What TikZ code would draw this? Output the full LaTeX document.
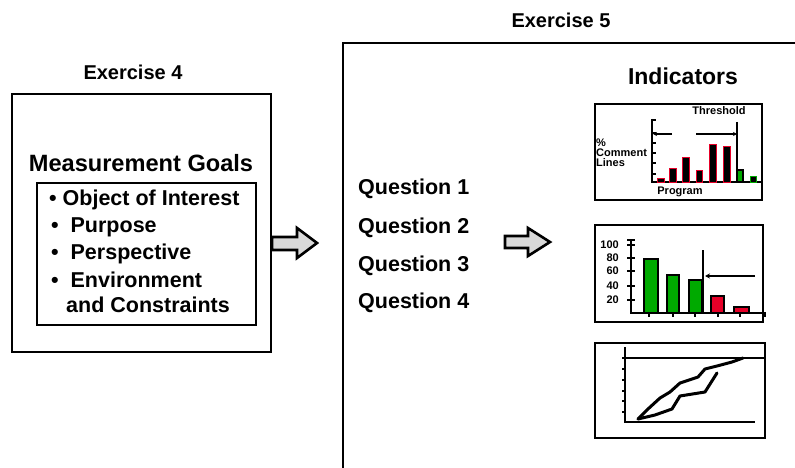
\documentclass[tikz,border=0pt]{standalone}
\usepackage{fontspec}
\setmainfont{Liberation Sans}
\usetikzlibrary{arrows.meta}
\definecolor{bargreen}{RGB}{0,170,0}
\definecolor{barred}{RGB}{230,0,40}
\definecolor{arrowfill}{RGB}{217,217,217}
\begin{document}
\begin{tikzpicture}[x=1pt,y=-1pt,
  lbl/.style={font=\bfseries\fontsize{#1}{#1}\selectfont, inner sep=0pt},
  lbl/.default=20,
  frame/.style={draw=black, line width=2pt},
  blockarrow/.style={draw=black, line width=2.6pt, fill=arrowfill, line join=miter},
  axis/.style={line width=2pt},
  thin/.style={line width=1.5pt}]
\useasboundingbox (0,0) rectangle (795,468);

% titles
\node[lbl=20] (ex5) at (561,20) {Exercise 5};
\node[lbl=20] (ex4) at (133,72) {Exercise 4};
\node[lbl=23] (ind) at (683,76) {Indicators};

% left box
\draw[frame] (12,94) rectangle (271,352);
\node[lbl=23.6] (mg) at (141,163.5) {Measurement Goals};
\draw[frame] (37,183) rectangle (256,325);
\node[lbl=21.5, anchor=west] (i1) at (49,200) {\textbullet\ Object of Interest};
\node[lbl=21.5, anchor=west] (i2) at (51,227) {\textbullet\ \ Purpose};
\node[lbl=21.5, anchor=west] (i3) at (51,254) {\textbullet\ \ Perspective};
\node[lbl=21.5, anchor=west] (i4) at (51,280) {\textbullet\ \ Environment};
\node[lbl=21.5, anchor=west] (i5) at (66,305) {and Constraints};

% right box
\draw[frame] (343,470) -- (343,43) -- (797,43);

% arrows
\draw[blockarrow] (272,237) -- (297,237) -- (297,228) -- (317,243) -- (297,258) -- (297,250) -- (272,250) -- cycle;
\draw[blockarrow] (505,236) -- (528,236) -- (528,228) -- (550,242) -- (528,256) -- (528,248) -- (505,248) -- cycle;

% questions
\node[lbl=21.5, anchor=west] (q1) at (358,189) {Question 1};
\node[lbl=21.5, anchor=west] (q2) at (358,228) {Question 2};
\node[lbl=21.5, anchor=west] (q3) at (358,266) {Question 3};
\node[lbl=21.5, anchor=west] (q4) at (358,303) {Question 4};

% ---------- chart 1 ----------
\draw[frame] (595,104) rectangle (762,200);
\node[lbl=11] (thr) at (719,111) {Threshold};
\node[lbl=11, anchor=west, align=left] (cl) at (596,153) {\%\\[-1pt]Comment\\[-1pt]Lines};
\node[lbl=11] (prog) at (680,192) {Program};
\draw[axis] (652,119) -- (652,182) -- (761,182);
\foreach \yy in {120,133,143,153,163,174} \draw[thin] (652,\yy) -- (656,\yy);
\draw[thin, -{Stealth[length=4pt,width=4pt]}] (672,134) -- (653,134);
\draw[thin, -{Stealth[length=4pt,width=4pt]}] (696,134) -- (737,134);
\draw[axis] (737,122) -- (737,182);
\foreach \xa/\xb/\yt in {657/664/178, 669/676/168, 682/689/157, 696/702/170, 709/716/144, 723/730/146}
  \draw[fill=black, draw=barred, line width=0.8pt] (\xa,182) rectangle (\xb,\yt);
\draw[fill=bargreen, draw=black, line width=1.8pt] (737,182) rectangle (743,170);
\draw[fill=black, draw=bargreen, line width=0.8pt] (750,182) rectangle (756,176);

% ---------- chart 2 ----------
\draw[frame] (595,225) rectangle (763,322);
\foreach \v/\yy in {100/245, 80/258, 60/271, 40/286, 20/300}
  \node[lbl=11, anchor=east] at (619,\yy) {\v};
\draw[axis] (631,240) -- (631,313) -- (766,313);
\foreach \yy in {245,258,271,286,300} \draw[thin] (627,\yy) -- (635,\yy);
\draw[thin] (627,240) -- (635,240);
\foreach \xx in {649,673,695,718,740,765} \draw[thin] (\xx,313) -- (\xx,317);
\draw[fill=bargreen, draw=black, line width=2pt] (644,313) rectangle (658,259);
\draw[fill=bargreen, draw=black, line width=2pt] (667,313) rectangle (679,275);
\draw[fill=bargreen, draw=black, line width=2pt] (689,313) rectangle (702,280);
\draw[fill=barred, draw=black, line width=2pt] (711,313) rectangle (724,296);
\draw[fill=barred, draw=black, line width=2pt] (734,313) rectangle (749,307);
\draw[axis] (703,250) -- (703,313);
\draw[axis, -{Stealth[length=5pt,width=5pt]}] (755,276) -- (705,276);

% ---------- chart 3 ----------
\draw[frame] (595,343) rectangle (765,438);
\draw[axis] (625,347) -- (625,422) -- (755,422);
\draw[axis] (625,358) -- (765,358);
\foreach \yy in {358,369,380,391,401,412} \draw[thin] (622,\yy) -- (626,\yy);
\draw[line width=3pt, line join=round, line cap=round]
  (638,419) -- (648,409) -- (660,398) -- (670,392) -- (680,383) -- (698,377) -- (705,369) -- (717,366) -- (732,362) -- (743,358);
\draw[line width=3pt, line join=round, line cap=round]
  (638,419) -- (655,415) -- (672,409) -- (680,396) -- (705,392) -- (717,373);
\end{tikzpicture}
\end{document}
